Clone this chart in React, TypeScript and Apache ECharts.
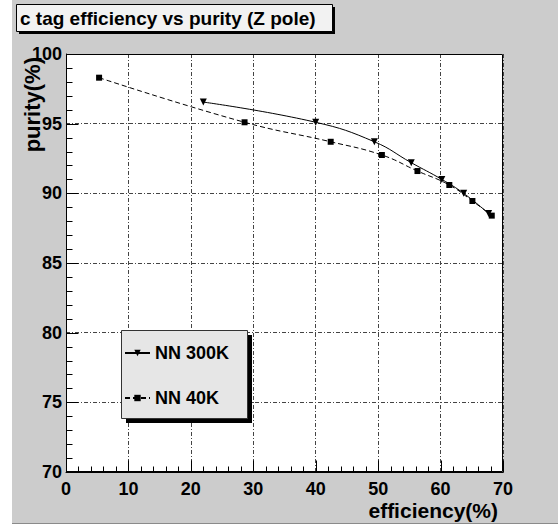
import React, { useEffect, useRef } from 'react';
import * as echarts from 'echarts';

const xTicks = [0, 10, 20, 30, 40, 50, 60, 70];
const yTicks = [70, 75, 80, 85, 90, 95, 100];
const xMinorStep = 2;
const yMinorStep = 1;

const eff300 = [22.0, 40.0, 49.4, 55.3, 60.2, 63.7, 67.7];
const pur300 = [96.55, 95.1, 93.7, 92.2, 91.0, 90.0, 88.55];
const eff40 = [5.3, 28.6, 42.4, 50.6, 56.3, 61.4, 65.1, 68.2];
const pur40 = [98.3, 95.1, 93.7, 92.75, 91.6, 90.6, 89.45, 88.4];

const titleText = 'c tag efficiency vs purity (Z pole)';
const seriesNames = ['NN 300K', 'NN 40K'];

const FONT = 'Liberation Sans, Arial, Helvetica, sans-serif';

export default function App() {
  const ref = useRef<HTMLDivElement>(null);
  useEffect(() => {
    const chart = echarts.init(ref.current!, null, { renderer: 'svg' });
    const gridLine = { show: true, lineStyle: { color: '#444', width: 1, type: [4, 2, 1, 2] } };
    const labelStyle = { color: '#000', fontSize: 18, fontWeight: 'bold', fontFamily: FONT };
    const xMin = xTicks[0], xMax = xTicks[xTicks.length - 1];
    const yMin = yTicks[0], yMax = yTicks[yTicks.length - 1];

    // tick marks (minor 6px, major 12px), positioned through the axis scales
    const xTickData: number[][] = [];
    for (let v = xMin; v <= xMax + 1e-9; v += xMinorStep) {
      xTickData.push([v, yMin, xTicks.includes(v) ? 12 : 6]);
    }
    const yTickData: number[][] = [];
    for (let v = yMin; v <= yMax + 1e-9; v += yMinorStep) {
      yTickData.push([xMin, v, yTicks.includes(v) ? 12 : 6]);
    }
    const tickSeries = (data: number[][], horizontal: boolean) => ({
      type: 'custom', silent: true, z: 6, legendHoverLink: false,
      xAxisIndex: 0, yAxisIndex: 0,
      data,
      renderItem: (params: any, api: any) => {
        const p = api.coord([api.value(0), api.value(1)]);
        const len = api.value(2);
        const x = Math.round(p[0]) + 0.5;
        const y = Math.round(p[1]) + 0.5;
        return {
          type: 'line',
          shape: horizontal
            ? { x1: x, y1: y, x2: x, y2: y - len }
            : { x1: x, y1: y, x2: x + len, y2: y },
          style: { stroke: '#000', lineWidth: 1 },
        };
      },
    });

    const option: any = {
      animation: false,
      backgroundColor: '#ffffff',
      textStyle: { fontFamily: FONT, fontWeight: 'bold' },
      grid: {
        left: 66, top: 54, right: 55, bottom: 55,
        show: false, containLabel: false,
      },
      xAxis: {
        type: 'value', min: xMin, max: xMax, interval: 10, z: 3, position: 'bottom',
        axisLine: { show: true, onZero: false, lineStyle: { color: '#000', width: 1 } },
        axisTick: { show: false },
        splitLine: gridLine,
        axisLabel: { margin: 8, ...labelStyle },
      },
      yAxis: {
        type: 'value', min: yMin, max: yMax, interval: 5, z: 3, position: 'left',
        axisLine: { show: true, onZero: false, lineStyle: { color: '#000', width: 1 } },
        axisTick: { show: false },
        splitLine: gridLine,
        axisLabel: { margin: 4, ...labelStyle },
      },
      legend: {
        show: true, orient: 'vertical', left: 124, top: 344, padding: 0,
        itemWidth: 25, itemHeight: 8, itemGap: 27, z: 20,
        backgroundColor: 'transparent', borderWidth: 0,
        textStyle: { color: '#000', fontSize: 18, fontWeight: 'bold', fontFamily: FONT },
        data: seriesNames,
      },
      series: [
        {
          name: seriesNames[0], type: 'line', smooth: 0.45,
          data: eff300.map((x, i) => [x, pur300[i]]),
          symbol: 'triangle', symbolRotate: 180, symbolSize: 7,
          lineStyle: { color: '#000', width: 1, type: 'solid' },
          itemStyle: { color: '#000' }, z: 5,
        },
        {
          name: seriesNames[1], type: 'line', smooth: 0.45,
          data: eff40.map((x, i) => [x, pur40[i]]),
          symbol: 'rect', symbolSize: 6,
          lineStyle: { color: '#000', width: 1, type: [5, 3] },
          itemStyle: { color: '#000' }, z: 5,
        },
        tickSeries(xTickData, true),
        tickSeries(yTickData, false),
      ],
      graphic: [
        { type: 'rect', z: -10, shape: { x: 12, y: 0, width: 546, height: 523 }, style: { fill: '#cccccc' } },
        { type: 'line', z: -9, shape: { x1: 12, y1: 523.5, x2: 558, y2: 523.5 }, style: { stroke: '#8a8a8a', lineWidth: 1 } },
        // plot area
        { type: 'rect', z: -5, shape: { x: 66, y: 54, width: 437, height: 418 }, style: { fill: '#ffffff' } },
        { type: 'rect', z: 4, shape: { x: 66.5, y: 54.5, width: 436, height: 417 }, style: { fill: 'none', stroke: '#000', lineWidth: 1 } },
        // title box
        { type: 'rect', z: 10, shape: { x: 19, y: 7, width: 316, height: 27 }, style: { fill: '#000' } },
        { type: 'rect', z: 11, shape: { x: 16.5, y: 4.5, width: 316, height: 27 }, style: { fill: '#f2f2f2', stroke: '#000', lineWidth: 1 } },
        { type: 'text', z: 12, x: 20, y: 18.5, style: { text: titleText, fill: '#000', font: `bold 19px ${FONT}`, verticalAlign: 'middle', align: 'left' } },
        // legend box
        { type: 'rect', z: 10, shape: { x: 126, y: 335, width: 126, height: 88 }, style: { fill: '#000' } },
        { type: 'rect', z: 11, shape: { x: 121.5, y: 330.5, width: 126, height: 88 }, style: { fill: '#e6e6e6', stroke: '#333', lineWidth: 1 } },
        // axis titles
        { type: 'text', z: 12, x: 32, y: 57, rotation: Math.PI / 2, style: { text: 'purity(%)', fill: '#000', font: `bold 22px ${FONT}`, align: 'right', verticalAlign: 'middle' } },
        { type: 'text', z: 12, x: 498, y: 510, style: { text: 'efficiency(%)', fill: '#000', font: `bold 21px ${FONT}`, align: 'right', verticalAlign: 'middle' } },
      ],
    };
    chart.setOption(option);
    return () => chart.dispose();
  }, []);
  return <div ref={ref} style={{ position: 'absolute', left: 0, top: 0, width: 558, height: 527 }} />;
}
